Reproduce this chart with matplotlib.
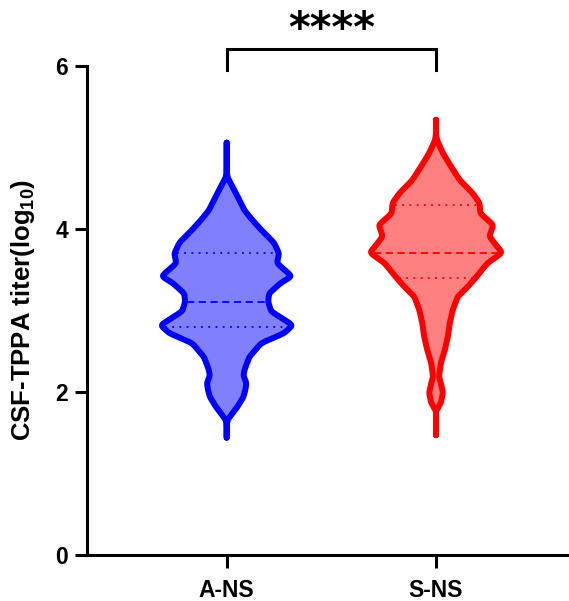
import numpy as np
import matplotlib
matplotlib.use("Agg")
import matplotlib.pyplot as plt

plt.rcParams['font.family'] = ['Liberation Sans', 'DejaVu Sans']
plt.rcParams['font.weight'] = 'bold'
plt.rcParams['mathtext.fontset'] = 'custom'
plt.rcParams['mathtext.rm'] = 'Liberation Sans:bold'
plt.rcParams['mathtext.it'] = 'Liberation Sans:bold'
plt.rcParams['mathtext.bf'] = 'Liberation Sans:bold'

categories = ["A-NS", "S-NS"]

# density profiles (titer level, relative density)
ans_levels = [1.44, 1.66, 1.82, 1.94, 2.03, 2.11, 2.20, 2.27, 2.43, 2.60, 2.72, 2.82, 2.99, 3.11, 3.21,
              3.34, 3.42, 3.58, 3.70, 3.83, 3.99, 4.11, 4.23, 4.40, 4.64, 5.06]
ans_density = [0, 3, 13, 19, 21, 22, 19, 20, 25, 37, 60, 69, 47, 44, 45,
               57, 68, 53, 55, 50, 37, 28, 20, 13, 2.7, 0]
sns_levels = [1.47, 1.74, 1.87, 1.99, 2.10, 2.19, 2.36, 2.52, 2.68, 2.85, 3.01, 3.17, 3.29, 3.40, 3.46,
              3.58, 3.71, 3.83, 3.91, 4.05, 4.19, 4.32, 4.44, 4.60, 4.77, 4.93, 5.09, 5.34]
sns_density = [0, 1, 7, 9, 7, 5, 7, 11, 14, 16, 19, 24, 34, 42, 46,
               54, 69, 61, 56, 60, 47, 46, 39, 26, 17, 9, 3, 0]

medians = [3.11, 3.71]
q1 = [2.80, 3.40]
q3 = [3.70, 4.30]
significance = "****"

edge_colors = ["#0000FF", "#FF0000"]
face_colors = ["#8080FF", "#FF8080"]

fig = plt.figure(figsize=(5.69, 6.01), dpi=100)
ax = fig.add_axes([87/569, 46/601, (569-87)/569, (555-66)/601])
ax.set_xlim(-0.667, 1.635)
ax.set_ylim(0, 6)

scale = 1/212.0


def profile(levels, dens):
    yy = np.linspace(levels[0], levels[-1], 800)
    ww = np.interp(yy, levels, dens)
    step = yy[1]-yy[0]
    sig = 0.018/step
    k = np.arange(-int(4*sig), int(4*sig)+1)
    ker = np.exp(-0.5*(k/sig)**2)
    ker /= ker.sum()
    wp = np.pad(ww, len(k)//2, mode='edge')
    ws = np.convolve(wp, ker, mode='valid')
    ws = np.clip(ws - 2.0, 0, None) * scale
    ws[0] = 0
    ws[-1] = 0
    return yy, ws


profiles = [profile(ans_levels, ans_density), profile(sns_levels, sns_density)]
for i, (yy, ws) in enumerate(profiles):
    xs = np.concatenate([i + ws, (i - ws)[::-1]])
    ys = np.concatenate([yy, yy[::-1]])
    ax.fill(xs, ys, facecolor=face_colors[i], edgecolor=edge_colors[i], lw=4.3,
            joinstyle='round', capstyle='round', zorder=3)
    for val, ls in [(medians[i], (0, (4, 2.5))), (q1[i], (0, (1, 3))), (q3[i], (0, (1, 3)))]:
        hw = np.interp(val, yy, ws) - 0.012
        ax.plot([i - hw, i + hw], [val, val], color=edge_colors[i], lw=1.3, ls=ls, zorder=4)

# significance bracket
ax.plot([0, 0, 1, 1], [5.95, 6.21, 6.21, 5.95], color='black', lw=2.2, clip_on=False,
        solid_joinstyle='miter', zorder=5)
ax.text(0.5, 6.44, significance, ha='center', va='center', fontsize=30,
        fontweight='bold', family=['DejaVu Sans'])

ax.set_xticks([0, 1])
ax.set_xticklabels(categories)
ax.set_yticks([0, 2, 4, 6])
ax.set_ylabel(r'CSF-TPPA titer(log$_{10}$)', fontsize=18.5, fontweight='bold')
ax.yaxis.set_label_coords(-0.104, 0.5)

for s in ['top', 'right']:
    ax.spines[s].set_visible(False)
for s in ['left', 'bottom']:
    ax.spines[s].set_linewidth(2.2)
ax.tick_params(axis='both', width=2.2, labelsize=16.5)
ax.tick_params(axis='y', length=8.6, pad=5)
ax.tick_params(axis='x', length=9.5, pad=8)

fig.savefig("out.png", dpi=100)
